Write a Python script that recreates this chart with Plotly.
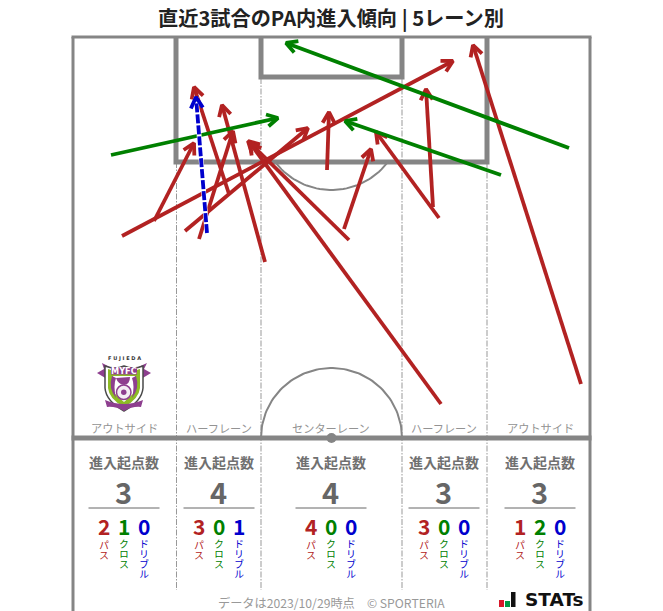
import numpy as np
import plotly.graph_objects as go

FONT = "Noto Sans CJK JP"
GRAY = "#858585"

TITLE = "直近3試合のPA内進入傾向 | 5レーン別"
FOOTER = "データは2023/10/29時点　© SPORTERIA"
LANES = ["アウトサイド", "ハーフレーン", "センターレーン", "ハーフレーン", "アウトサイド"]
LANE_X = [124, 219, 331, 444, 540]
LANE_BOUNDS = [176.5, 261, 402, 487]
TOTALS = [3, 4, 4, 3, 3]
PASS = [2, 3, 4, 3, 1]
CROSS = [1, 0, 0, 0, 2]
DRIBBLE = [0, 1, 0, 0, 0]

# start x, start y, end x, end y  (pitch drawn in screen units)
PASS_ARROWS = [
    (154, 221, 194, 143), (122, 236, 453, 61), (229, 194, 194, 87),
    (185, 231, 308, 128), (199, 239, 233, 131), (265, 262, 222, 105),
    (327, 170, 329, 112), (349, 240, 248, 141), (441, 404, 250, 143),
    (344, 229, 371, 149), (439, 218, 376, 132), (433, 207, 426, 89),
    (581, 384, 473, 45),
]
CROSS_ARROWS = [(111, 155, 278, 118), (569, 148, 286, 43), (501, 175, 345, 121)]
DRIBBLE_ARROWS = [(207, 233, 196, 97)]

fig = go.Figure()


def arrows(data, color, width=3.8, dash="solid", head=12.5):
    for x0, y0, x1, y1 in data:
        a = np.arctan2(y0 - y1, x0 - x1)
        bx = [x1 + head * np.cos(a + s) for s in (0.5, -0.5)]
        by = [y1 + head * np.sin(a + s) for s in (0.5, -0.5)]
        if dash != "solid":
            fig.add_trace(go.Scatter(x=[x0, x1], y=[y0, y1], mode="lines",
                                     line=dict(color="white", width=width + 1)))
        fig.add_trace(go.Scatter(x=[x0, x1], y=[y0, y1], mode="lines",
                                 line=dict(color=color, width=width, dash=dash)))
        fig.add_trace(go.Scatter(x=[bx[0], x1, bx[1]], y=[by[0], y1, by[1]], mode="lines",
                                 line=dict(color=color, width=width)))


def line(x0, y0, x1, y1, width, color=GRAY, dash=None):
    fig.add_shape(type="line", x0=x0, y0=y0, x1=x1, y1=y1,
                  line=dict(color=color, width=width, dash=dash), layer="below")


def text(x, y, s, size, color, bold=False, family=FONT):
    fig.add_annotation(x=x, y=y, text=f"<b>{s}</b>" if bold else s, showarrow=False,
                       xanchor="center", yanchor="middle",
                       font=dict(family=family, size=size, color=color))


def path(d, fill, stroke=None, w=0):
    fig.add_shape(type="path", path=d, fillcolor=fill, layer="below",
                  line=dict(color=stroke or fill, width=w))


# pitch
for x, top in zip(LANE_BOUNDS, [162, 78, 78, 162]):
    line(x, top, x, 590, 1, "#999999", "6px,1.5px,1.5px,1.5px")
line(73, 37, 73, 611, 3)
line(590, 37, 590, 611, 3)
line(71.5, 37, 591.5, 37, 3)
fig.add_shape(type="path", path="M 176 37 L 176 162 L 487 162 L 487 37",
              line=dict(color=GRAY, width=5), layer="below")
fig.add_shape(type="path", path="M 261 37 L 261 77 L 402 77 L 402 37",
              line=dict(color=GRAY, width=5), layer="below")
line(71.5, 438, 591.5, 438, 5)
th = np.linspace(0, np.pi, 80)
fig.add_trace(go.Scatter(x=331.5 + 70.5 * np.cos(th), y=438 - 70 * np.sin(th), mode="lines",
                         line=dict(color=GRAY, width=2)))
th = np.linspace(0.64, np.pi - 0.64, 40)
fig.add_trace(go.Scatter(x=331.5 + 70.5 * np.cos(th), y=120 + 70 * np.sin(th), mode="lines",
                         line=dict(color=GRAY, width=2)))
fig.add_trace(go.Scatter(x=[331.5], y=[438], mode="markers",
                         marker=dict(color=GRAY, size=10)))

arrows(PASS_ARROWS, "#b22222")
arrows(CROSS_ARROWS, "#008000")
arrows(DRIBBLE_ARROWS, "#0000cd", dash="9px,2px")

# texts
text(331, 17.5, TITLE, 20.2, "#222222", True)
text(331, 603, FOOTER, 12.2, "#999999")
for i, cx in enumerate(LANE_X):
    text(cx, 428, LANES[i], 11.2, "#939393")
    text(cx, 462, "進入起点数", 14, "#707070", True)
    text(cx - 0.5, 491, TOTALS[i], 29, "#666666", True)
    line(cx - 35.5, 508, cx + 35.5, 508, 1, "#666666")
    for off, val, col, word in [(-20, PASS[i], "#b22222", "パス"),
                                (0, CROSS[i], "#008000", "クロス"),
                                (20, DRIBBLE[i], "#0000cd", "ドリブル")]:
        text(cx + off, 526, val, 21, col, True)
        # set upright (vertical writing) after drawing; the anchor is the word's middle
        text(cx + off, 539 + len(word) * 4.85 - 3.6, word, 10, col)

# club crest (simplified drawing)
P, G, D = "#8e3f8f", "#8dbb25", "#4a4a4a"
path("M 97 373 L 104 369 L 102 363 L 112 368 L 112 382 Z", P)
path("M 151 373 L 144 369 L 147 363 L 136 368 L 136 382 Z", P)
path("M 105 366 Q 115 370 124 366 Q 133 370 143 366 L 143 388 Q 142 401 124 411 Q 106 401 105 388 Z",
     "#ffffff", D, 1.5)
path("M 108 369 Q 116 372 124 369 Q 132 372 140 369 L 140 388 Q 139 399 124 407 Q 109 399 108 388 Z", G)
path("M 113 376 L 135 376 L 135 392 L 124 402 L 113 392 Z", "#ffffff")
path("M 111 367.5 L 137 367.5 L 137 374.5 L 111 374.5 Z", P)
path("M 112 376 Q 108 388 116 398 Q 113 386 116 378 Z", P)
path("M 136 376 Q 140 388 132 398 Q 135 386 132 378 Z", P)
path("M 116 378 L 130 377 Q 130 384 124 385 Q 118 384 116 378 Z", P)
fig.add_shape(type="circle", x0=116.5, y0=385, x1=131, y1=399.5, fillcolor="#f4eef4",
              line=dict(color=P, width=1.5), layer="below")
fig.add_shape(type="circle", x0=121, y0=389.5, x1=126.5, y1=395, fillcolor=P,
              line=dict(width=0), layer="below")
path("M 105 400 Q 124 408 143 400 L 141 407 Q 133 406 124 411 Q 115 406 107 407 Z", P)
text(124, 371, "MYFC", 8.2, "#ffffff", True, "DejaVu Sans")
text(124.5, 358, "F U J I E D A", 5, "#333333", True, "DejaVu Sans")

# STATs logo
fig.add_shape(type="rect", x0=499, y0=600, x1=504, y1=607, fillcolor="#d7182a", line=dict(width=0))
fig.add_shape(type="rect", x0=505, y0=601, x1=510, y1=607, fillcolor="#009944", line=dict(width=0))
fig.add_shape(type="rect", x0=511, y0=592, x1=515.5, y1=607, fillcolor="#111111", line=dict(width=0))
text(554, 599.5, "STATs", 18.5, "#111111", True, "DejaVu Sans")

fig.update_layout(width=663, height=611, margin=dict(l=0, r=0, t=0, b=0), showlegend=False,
                  paper_bgcolor="white", plot_bgcolor="white",
                  xaxis=dict(range=[0, 663], visible=False, fixedrange=True),
                  yaxis=dict(range=[611, 0], visible=False, fixedrange=True))

VERTICAL = """
document.body.style.margin='0';
document.querySelectorAll('.annotation-text').forEach(function(t){
  if(['パス','クロス','ドリブル'].indexOf(t.textContent)>=0){t.style.writingMode='vertical-rl';}
});
"""
fig.write_html("out.html", config=dict(displayModeBar=False), post_script=VERTICAL)
